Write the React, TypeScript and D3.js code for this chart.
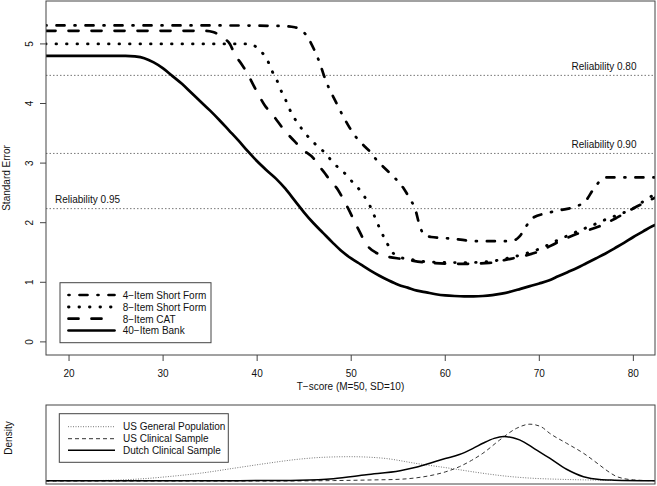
import React from "react";
import * as d3 from "d3";

// ---------- data ----------
const xTicks = [20, 30, 40, 50, 60, 70, 80];
const yTicks = [0, 1, 2, 3, 4, 5];

const reliabilityLevels = [0.8, 0.9, 0.95];
const reliabilityLabels = ["Reliability 0.80", "Reliability 0.90", "Reliability 0.95"];

const seriesNames = ["4\u2212Item Short Form", "8\u2212Item Short Form", "8\u2212Item CAT", "40\u2212Item Bank"];

// [T-score, standard error]
const sf4: [number, number][] = [
  [17.5, 5.31], [25, 5.31], [35, 5.31], [42.8, 5.3], [44, 5.28], [44.5, 5.25], [45.1, 5.17], [45.6, 5.05],
  [46.1, 4.89], [46.7, 4.66], [47.1, 4.47], [47.6, 4.27], [48.3, 4.05], [48.8, 3.89], [49.7, 3.63],
  [50.2, 3.5], [50.7, 3.4], [51.5, 3.27], [52.2, 3.16], [52.7, 3.05], [53.4, 2.94], [54.5, 2.77], [55.0, 2.69],
  [55.6, 2.57], [56.2, 2.41], [56.8, 2.23], [57.3, 1.94], [57.8, 1.79], [58.5, 1.76], [60.1, 1.74],
  [63.7, 1.69], [66.5, 1.69], [67.4, 1.71], [67.9, 1.77], [68.6, 1.94], [69.3, 2.08], [70.8, 2.16],
  [72.5, 2.22], [73.9, 2.27], [75.0, 2.38], [75.7, 2.55], [76.6, 2.72], [77.1, 2.76], [82.3, 2.76],
];

const sf8: [number, number][] = [
  [17.5, 5.0], [30, 5.0], [39.2, 5.0], [39.6, 4.98], [39.95, 4.94], [40.65, 4.83], [41.2, 4.69], [41.6, 4.54],
  [42.1, 4.39], [42.5, 4.23], [43.0, 4.07], [43.4, 3.92], [43.9, 3.77], [44.5, 3.63], [45.1, 3.5],
  [45.8, 3.38], [46.5, 3.27], [47.3, 3.16], [48.0, 3.02], [48.8, 2.9], [49.5, 2.8], [50.2, 2.67],
  [50.9, 2.55], [51.4, 2.44], [52.0, 2.28], [52.5, 2.1], [53.1, 1.88], [53.8, 1.66], [54.3, 1.52],
  [55.2, 1.42], [56.5, 1.38], [58.4, 1.34], [61.9, 1.33], [64.7, 1.35], [66.5, 1.4], [68.3, 1.47],
  [70, 1.56], [72, 1.71], [74.3, 1.87], [75.7, 1.96], [77, 2.05], [79.3, 2.19], [80.1, 2.25], [81, 2.35], [82.3, 2.48],
];

const cat8: [number, number][] = [
  [17.5, 5.22], [30, 5.22], [34.5, 5.22], [35.3, 5.2], [36, 5.15], [36.6, 5.08], [37.1, 5.0], [37.6, 4.83],
  [38.35, 4.66], [38.9, 4.52], [39.8, 4.25], [40.8, 3.97], [41.7, 3.8], [42.9, 3.55], [44.2, 3.33],
  [44.9, 3.22], [46.0, 3.08], [46.5, 2.97], [47.2, 2.83], [47.7, 2.72], [48.6, 2.55], [49.1, 2.41],
  [49.7, 2.23], [50.6, 1.94], [51.8, 1.6], [52.6, 1.5], [53.4, 1.45], [55.5, 1.39], [58.4, 1.325],
  [61.9, 1.31], [64.7, 1.325], [66.5, 1.38], [68.3, 1.44], [70, 1.52], [71.8, 1.66], [74.3, 1.83],
  [76.4, 1.94], [78.2, 2.08], [80, 2.24], [82.3, 2.42],
];

const bank40: [number, number][] = [
  [17.5, 4.8], [20, 4.8], [24, 4.8], [26, 4.8], [27, 4.79], [28, 4.76], [29, 4.69], [30, 4.59], [31, 4.46],
  [32, 4.33], [33, 4.18], [34, 4.03], [35, 3.88], [36, 3.72], [37, 3.55], [38, 3.38], [39, 3.2], [40, 3.03],
  [41, 2.88], [42, 2.74], [43, 2.57], [44, 2.37], [45, 2.17], [46, 1.99], [47, 1.83], [48, 1.67], [49, 1.52],
  [50, 1.4], [51, 1.3], [52, 1.2], [53, 1.11], [54, 1.03], [55, 0.96], [56, 0.91], [57, 0.86], [58, 0.83],
  [59, 0.8], [60, 0.78], [61, 0.77], [62, 0.765], [63, 0.765], [64, 0.77], [65, 0.785], [66, 0.81],
  [67, 0.845], [68, 0.89], [69, 0.935], [70, 0.98], [71, 1.03], [72, 1.1], [73, 1.17], [74, 1.24],
  [75, 1.32], [76, 1.4], [77, 1.48], [78, 1.57], [79, 1.66], [80, 1.76], [81, 1.85], [82, 1.94], [82.3, 1.96],
];

const densityNames = ["US General Population", "US Clinical Sample", "Dutch Clinical Sample"];

const usGeneral: [number, number][] = [
  [17.5, 0.0003], [20, 0.0005], [25, 0.0015], [28, 0.004], [31, 0.008], [34, 0.013], [37.5, 0.021],
  [41, 0.029], [44.5, 0.036], [47, 0.039], [49.9, 0.04], [53.4, 0.0375], [56.9, 0.029], [60.5, 0.021],
  [64, 0.0128], [66.5, 0.008], [69.3, 0.0046], [72, 0.003], [74.7, 0.002], [78, 0.0012], [82.3, 0.0008],
];

const usClinical: [number, number][] = [
  [17.5, 0], [40, 0], [45, 0.0003], [48.1, 0.0008], [52, 0.0018], [55.2, 0.003], [57, 0.0055],
  [58.7, 0.0099], [60, 0.015], [61.5, 0.0236], [62.8, 0.034], [64, 0.0456], [65.8, 0.0675],
  [67.6, 0.0867], [69, 0.0933], [70.2, 0.089], [71.1, 0.0784], [72.9, 0.062], [74.7, 0.0456],
  [76.4, 0.0264], [77.3, 0.016], [78.2, 0.0076], [79, 0.004], [80, 0.002], [82.3, 0.0005],
];

const dutchClinical: [number, number][] = [
  [17.5, 0.0005], [30, 0.0005], [40, 0.0008], [44.5, 0.0015], [48.1, 0.004], [51.6, 0.0105],
  [55.2, 0.017], [57, 0.023], [58.7, 0.031], [60, 0.037], [61.5, 0.0435], [63, 0.054], [64, 0.062],
  [65.2, 0.07], [66.2, 0.073], [67.2, 0.071], [67.9, 0.0675], [69.5, 0.053], [71.1, 0.0375],
  [72.9, 0.0194], [74.7, 0.0072], [76.4, 0.0025], [78, 0.0015], [82.3, 0.0005],
];

// ---------- layout ----------
const W = 657;
const H = 486;
const L = 46;
const R = 655;
const T1 = 1;
const B1 = 355;
const T2 = 405;
const B2 = 484;
const FONT = "'Liberation Sans', Arial, Helvetica, sans-serif";
const TXT = "#111";

export default function App() {
  const x = d3.scaleLinear().domain([17.55, 82.3]).range([L, R]);
  const y = d3.scaleLinear().domain([-0.22, 5.72]).range([B1, T1]);
  const yd = d3.scaleLinear().domain([-0.0048, 0.1248]).range([B2, T2]);

  const line = d3
    .line<[number, number]>()
    .x((d) => x(d[0]))
    .y((d) => y(d[1]))
    .curve(d3.curveMonotoneX);
  const dline = d3
    .line<[number, number]>()
    .x((d) => x(d[0]))
    .y((d) => yd(d[1]))
    .curve(d3.curveMonotoneX);

  const styles = [
    { dash: "1,10,8,10", w: 2.7 },
    { dash: "0.5,10", w: 2.9 },
    { dash: "10,13", w: 2.7 },
    { dash: null, w: 2.7 },
  ];
  const series = [sf4, sf8, cat8, bank40];

  const dStyles = [
    { dash: "1,1.5", w: 1, c: "#777" },
    { dash: "4,3", w: 1, c: "#333" },
    { dash: null, w: 1.5, c: "#000" },
  ];
  const dSeries = [usGeneral, usClinical, dutchClinical];

  const relSE = reliabilityLevels.map((r) => 10 * Math.sqrt(1 - r));

  const legRows = [295, 307, 318.7, 330.5];
  const dLegRows = [426.7, 438.7, 450.3];

  return (
    <svg
      width={W}
      height={H}
      style={{ position: "absolute", left: 0, top: 0, background: "#fff" }}
      fontFamily={FONT}
    >
      <defs>
        <clipPath id="c1">
          <rect x={L} y={T1} width={R - L} height={B1 - T1} />
        </clipPath>
        <clipPath id="c2">
          <rect x={L} y={T2} width={R - L} height={B2 - T2} />
        </clipPath>
      </defs>

      {/* reliability lines */}
      {relSE.map((s, i) => (
        <line
          key={"r" + i}
          x1={L}
          x2={R}
          y1={y(s)}
          y2={y(s)}
          stroke="#777"
          strokeWidth={1}
          strokeDasharray="1.5,2"
        />
      ))}
      <text x={636.5} y={y(relSE[0]) - 5.5} textAnchor="end" fontSize={10} fill={TXT}>
        {reliabilityLabels[0]}
      </text>
      <text x={636.5} y={y(relSE[1]) - 5.3} textAnchor="end" fontSize={10} fill={TXT}>
        {reliabilityLabels[1]}
      </text>
      <text x={55} y={y(relSE[2]) - 6} textAnchor="start" fontSize={10} fill={TXT}>
        {reliabilityLabels[2]}
      </text>

      {/* curves */}
      <g clipPath="url(#c1)">
        {series.map((s, i) => (
          <path
            key={"s" + i}
            d={line(s) || ""}
            fill="none"
            stroke="#000"
            strokeWidth={styles[i].w}
            strokeDasharray={styles[i].dash || undefined}
            strokeLinecap="round"
            strokeLinejoin="round"
          />
        ))}
      </g>

      {/* frame top */}
      <rect x={L} y={T1} width={R - L} height={B1 - T1} fill="none" stroke="#444" strokeWidth={1} />

      {/* x axis */}
      {xTicks.map((t) => (
        <g key={"xt" + t}>
          <line x1={x(t)} x2={x(t)} y1={B1} y2={B1 + 6} stroke="#444" />
          <text x={x(t)} y={377} textAnchor="middle" fontSize={10} fill={TXT}>
            {t}
          </text>
        </g>
      ))}
      <text x={(L + R) / 2} y={389.5} textAnchor="middle" fontSize={10} fill={TXT}>
        T&#8722;score (M=50, SD=10)
      </text>

      {/* y axis */}
      {yTicks.map((t) => (
        <g key={"yt" + t}>
          <line x1={L - 6} x2={L} y1={y(t)} y2={y(t)} stroke="#444" />
          <text
            transform={`translate(33.2,${y(t)}) rotate(-90)`}
            textAnchor="middle"
            fontSize={10}
            fill={TXT}
          >
            {t}
          </text>
        </g>
      ))}
      <text
        transform={`translate(10,${(T1 + B1) / 2}) rotate(-90)`}
        textAnchor="middle"
        fontSize={10}
        fill={TXT}
      >
        Standard Error
      </text>

      {/* top legend */}
      <rect x={60} y={282.7} width={151} height={60} fill="#fff" stroke="#444" strokeWidth={1} />
      {seriesNames.map((n, i) => (
        <g key={"lg" + i}>
          <line
            x1={68.5}
            x2={114.5}
            y1={legRows[i]}
            y2={legRows[i]}
            stroke="#000"
            strokeWidth={styles[i].w}
            strokeDasharray={styles[i].dash || undefined}
            strokeLinecap="round"
          />
          <text x={122.7} y={legRows[i] + 3.8} fontSize={10} fill={TXT}>
            {n}
          </text>
        </g>
      ))}

      {/* density panel */}
      <g clipPath="url(#c2)">
        {dSeries.map((s, i) => (
          <path
            key={"d" + i}
            d={dline(s) || ""}
            fill="none"
            stroke={dStyles[i].c}
            strokeWidth={dStyles[i].w}
            strokeDasharray={dStyles[i].dash || undefined}
          />
        ))}
      </g>
      <rect x={L} y={T2} width={R - L} height={B2 - T2} fill="none" stroke="#444" strokeWidth={1} />
      <text
        transform={`translate(12,438) rotate(-90)`}
        textAnchor="middle"
        fontSize={10}
        fill={TXT}
      >
        Density
      </text>

      {/* density legend */}
      <rect x={59.3} y={413.7} width={169} height={48.6} fill="#fff" stroke="#444" strokeWidth={1} />
      {densityNames.map((n, i) => (
        <g key={"dl" + i}>
          <line
            x1={68}
            x2={115}
            y1={dLegRows[i]}
            y2={dLegRows[i]}
            stroke={dStyles[i].c}
            strokeWidth={dStyles[i].w}
            strokeDasharray={dStyles[i].dash || undefined}
          />
          <text x={123} y={dLegRows[i] + 3.6} fontSize={10} fill={TXT}>
            {n}
          </text>
        </g>
      ))}
    </svg>
  );
}
